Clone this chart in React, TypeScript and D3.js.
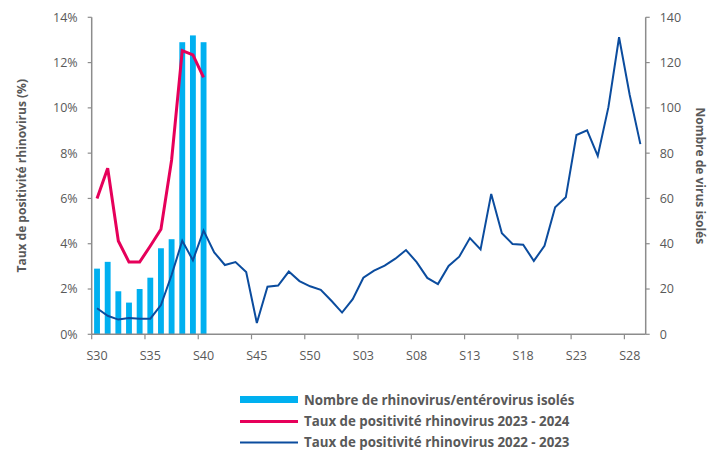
import React from 'react';
import * as d3 from 'd3';

const weeks: string[] = [
  'S30', 'S31', 'S32', 'S33', 'S34', 'S35', 'S36', 'S37', 'S38', 'S39', 'S40', 'S41',
  'S42', 'S43', 'S44', 'S45', 'S46', 'S47', 'S48', 'S49', 'S50', 'S51', 'S52',
  'S01', 'S02', 'S03', 'S04', 'S05', 'S06', 'S07', 'S08', 'S09', 'S10', 'S11', 'S12',
  'S13', 'S14', 'S15', 'S16', 'S17', 'S18', 'S19', 'S20', 'S21', 'S22', 'S23', 'S24',
  'S25', 'S26', 'S27', 'S28', 'S29',
];

// Nombre de rhinovirus/entérovirus isolés (axe droit)
const isolates: number[] = [29, 32, 19, 14, 20, 25, 38, 42, 129, 132, 129];

// Taux de positivité 2023 - 2024 (%)
const rate2324: number[] = [6.0, 7.33, 4.12, 3.19, 3.19, 3.9, 4.64, 7.7, 12.53, 12.34, 11.35];

// Taux de positivité 2022 - 2023 (%)
const rate2223: number[] = [
  1.15, 0.82, 0.65, 0.72, 0.69, 0.69, 1.29, 2.62, 4.13, 3.27, 4.58, 3.62,
  3.06, 3.19, 2.75, 0.5, 2.1, 2.15, 2.77, 2.35, 2.12, 1.96, 1.48,
  0.96, 1.55, 2.5, 2.81, 3.03, 3.34, 3.72, 3.19, 2.49, 2.22, 3.02, 3.43,
  4.25, 3.75, 6.2, 4.46, 3.99, 3.96, 3.24, 3.91, 5.61, 6.05, 8.8, 9.01,
  7.88, 10.03, 13.12, 10.57, 8.4,
];

const leftTicks = [0, 2, 4, 6, 8, 10, 12, 14];
const rightTicks = [0, 20, 40, 60, 80, 100, 120, 140];

const W = 719;
const H = 453;
const plot = { left: 91.7, right: 645.7, top: 17.3, bottom: 334.3 };
const font = "'Open Sans', sans-serif";
const grey = '#595959';
const axisCol = '#8c8c8c';
const barCol = '#00B0F0';
const redCol = '#E6005A';
const blueCol = '#0B4C9E';

export default function App() {
  const x = d3.scaleBand<string>().domain(weeks).range([plot.left, plot.right]).padding(0);
  const yL = d3.scaleLinear().domain([0, 14]).range([plot.bottom, plot.top]);
  const yR = d3.scaleLinear().domain([0, 140]).range([plot.bottom, plot.top]);
  const cx = (w: string) => (x(w) ?? 0) + x.bandwidth() / 2;
  const barW = x.bandwidth() * 0.55;

  const line = d3.line<number>()
    .x((_, i) => cx(weeks[i]))
    .y(d => yL(d));

  const tickIdx = weeks.map((_, i) => i).filter(i => i % 5 === 0);

  return (
    <svg width={W} height={H} style={{ position: 'absolute', left: 0, top: 0, background: '#fff' }}
      fontFamily={font}>
      {/* bars */}
      {isolates.map((v, i) => (
        <rect key={'b' + i} x={cx(weeks[i]) - barW / 2} y={yR(v)} width={barW}
          height={yR(0) - yR(v)} fill={barCol} />
      ))}
      {/* lines */}
      <path d={line(rate2223) ?? ''} fill="none" stroke={blueCol} strokeWidth={2} strokeLinejoin="miter" />
      <path d={line(rate2324) ?? ''} fill="none" stroke={redCol} strokeWidth={3} strokeLinejoin="miter" />

      {/* left axis */}
      <line x1={plot.left} x2={plot.left} y1={plot.top} y2={plot.bottom} stroke={axisCol} strokeWidth={1.5} />
      {leftTicks.map(t => (
        <g key={'l' + t}>
          <line x1={plot.left - 4} x2={plot.left} y1={yL(t)} y2={yL(t)} stroke={axisCol} strokeWidth={1.2} />
          <text x={plot.left - 14} y={yL(t)} dy="0.35em" textAnchor="end" fontSize={12.5} fill={grey}>{t}%</text>
        </g>
      ))}
      {/* right axis */}
      <line x1={plot.right} x2={plot.right} y1={plot.top} y2={plot.bottom} stroke={axisCol} strokeWidth={1.5} />
      {rightTicks.map(t => (
        <g key={'r' + t}>
          <line x1={plot.right} x2={plot.right + 4} y1={yR(t)} y2={yR(t)} stroke={axisCol} strokeWidth={1.2} />
          <text x={plot.right + 14} y={yR(t)} dy="0.35em" textAnchor="start" fontSize={12.5} fill={grey}>{t}</text>
        </g>
      ))}
      {/* bottom axis */}
      <line x1={plot.left} x2={plot.right} y1={plot.bottom} y2={plot.bottom} stroke={axisCol} strokeWidth={1.5} />
      {tickIdx.map(i => (
        <g key={'x' + i}>
          <line x1={x(weeks[i])} x2={x(weeks[i])} y1={plot.bottom} y2={plot.bottom + 5} stroke={axisCol} strokeWidth={1.2} />
          <text x={cx(weeks[i])} y={plot.bottom + 21} dy="0.35em" textAnchor="middle" fontSize={12.5} fill={grey}>{weeks[i]}</text>
        </g>
      ))}

      {/* axis titles */}
      <text transform={`translate(22,${(plot.top + plot.bottom) / 2}) rotate(-90)`} textAnchor="middle"
        dy="0.35em" fontSize={12} fontWeight="bold" fill={grey}>Taux de positivité rhinovirus (%)</text>
      <text transform={`translate(700,${(plot.top + plot.bottom) / 2}) rotate(90)`} textAnchor="middle"
        dy="0.35em" fontSize={12} fontWeight="bold" fill={grey}>Nombre de virus isolés</text>

      {/* legend */}
      <g fontSize={13.3} fontWeight="bold" fill={grey}>
        <rect x={240} y={396} width={58} height={7} fill={barCol} />
        <text x={304} y={400} dy="0.35em">Nombre de rhinovirus/entérovirus isolés</text>
        <line x1={240} x2={298} y1={421.5} y2={421.5} stroke={redCol} strokeWidth={3} />
        <text x={304} y={421.5} dy="0.35em">Taux de positivité rhinovirus 2023 - 2024</text>
        <line x1={240} x2={298} y1={442.5} y2={442.5} stroke={blueCol} strokeWidth={2} />
        <text x={304} y={442.5} dy="0.35em">Taux de positivité rhinovirus 2022 - 2023</text>
      </g>
    </svg>
  );
}
